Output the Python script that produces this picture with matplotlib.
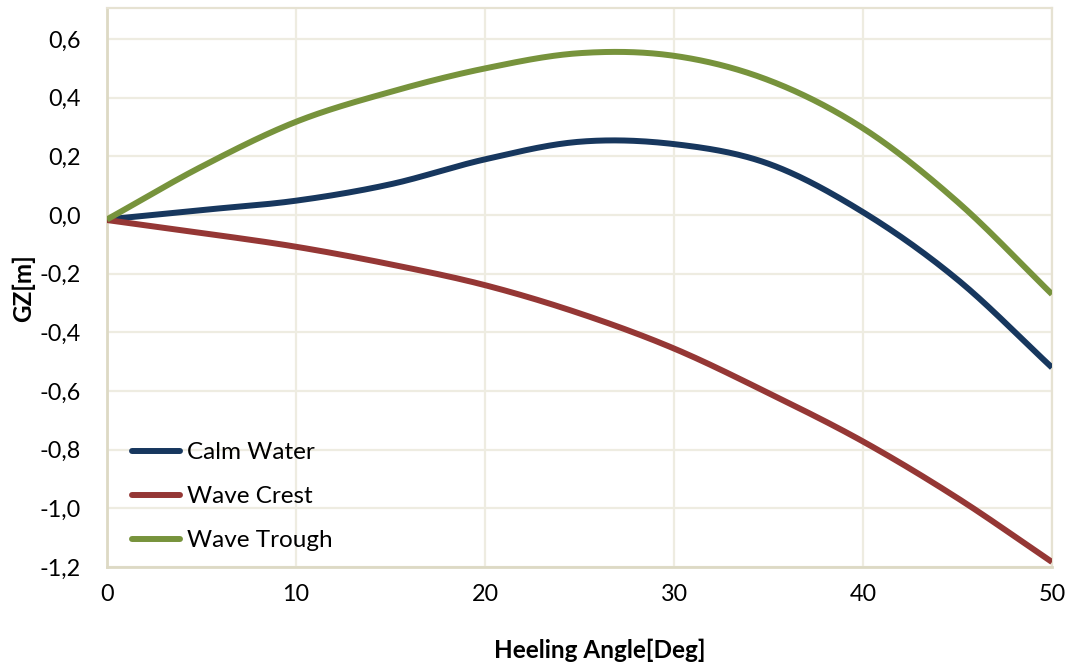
import numpy as np
import matplotlib
matplotlib.use("Agg")
import matplotlib.pyplot as plt

# GZ curves (righting arm) against heel angle
heel_deg = [0, 5, 10, 15, 20, 25, 30, 35, 40, 45, 50]
gz_calm = [-0.015, 0.017, 0.049, 0.105, 0.19, 0.25, 0.242, 0.175, 0.01, -0.22, -0.52]
gz_crest = [-0.017, -0.061, -0.108, -0.168, -0.239, -0.335, -0.455, -0.607, -0.772, -0.965, -1.183]
gz_trough = [-0.015, 0.165, 0.318, 0.42, 0.50, 0.552, 0.543, 0.46, 0.296, 0.045, -0.27]

series_names = ["Calm Water", "Wave Crest", "Wave Trough"]
series_colors = ["#17375E", "#953735", "#77933C"]

y_ticks = [-1.2, -1.0, -0.8, -0.6, -0.4, -0.2, 0.0, 0.2, 0.4, 0.6]
x_ticks = [0, 10, 20, 30, 40, 50]


def smooth_line(x, y, steps=40):
    """Catmull-Rom curve through the points (same look as a smoothed spreadsheet line)."""
    x = np.asarray(x, float)
    y = np.asarray(y, float)
    px = np.concatenate([[2 * x[0] - x[1]], x, [2 * x[-1] - x[-2]]])
    py = np.concatenate([[2 * y[0] - y[1]], y, [2 * y[-1] - y[-2]]])
    t = np.linspace(0, 1, steps, endpoint=False)
    xs, ys = [], []
    for i in range(1, len(px) - 2):
        for p, out in ((px, xs), (py, ys)):
            p0, p1, p2, p3 = p[i - 1], p[i], p[i + 1], p[i + 2]
            out.append(0.5 * (2 * p1 + (-p0 + p2) * t
                              + (2 * p0 - 5 * p1 + 4 * p2 - p3) * t ** 2
                              + (-p0 + 3 * p1 - 3 * p2 + p3) * t ** 3))
    xs.append([x[-1]])
    ys.append([y[-1]])
    return np.concatenate(xs), np.concatenate(ys)


plt.rcParams["font.family"] = ["Lato", "DejaVu Sans"]

fig = plt.figure(figsize=(10.69, 6.66), dpi=100)
ax = fig.add_axes([107 / 1069, 1 - 567 / 666, 945 / 1069, 559 / 666])

for vals, name, col in zip([gz_calm, gz_crest, gz_trough], series_names, series_colors):
    sx, sy = smooth_line(heel_deg, vals)
    ax.plot(sx, sy, color=col, lw=4.3, label=name, solid_capstyle="butt", zorder=3)

ax.set_xlim(0, 50)
ax.set_ylim(-1.2, 0.706)
ax.set_xticks(x_ticks)
ax.set_yticks(y_ticks)
ax.set_yticklabels([f"{v:.1f}".replace(".", ",") for v in y_ticks])
ax.tick_params(axis="both", length=0, labelsize=16.8, colors="black")
ax.tick_params(axis="y", pad=19)
ax.tick_params(axis="x", pad=12)

ax.grid(True, color="#EEECE1", lw=1.6, zorder=0)
ax.set_axisbelow(True)
for side in ["left", "bottom"]:
    ax.spines[side].set_color("#DDD9C4")
    ax.spines[side].set_linewidth(2.0)
for side in ["top", "right"]:
    ax.spines[side].set_color("#E6E2D2")
    ax.spines[side].set_linewidth(1.6)

fig.text(600 / 1069, 1 - 650 / 666, "Heeling Angle[Deg]", ha="center", va="center",
         fontsize=17.5, fontweight="bold")
fig.text(23 / 1069, 1 - 288 / 666, "GZ[m]", ha="center", va="center", rotation=90,
         fontsize=17.5, fontweight="bold")

leg = ax.legend(loc="lower left", bbox_to_anchor=(0.026, 0.028), frameon=False,
                fontsize=17.5, handlelength=2.0, handletextpad=0.28, labelspacing=0.95,
                borderpad=0, borderaxespad=0)
for ln in leg.get_lines():
    ln.set_solid_capstyle("round")
    ln.set_linewidth(4.3)

fig.savefig("out.png", dpi=100)
